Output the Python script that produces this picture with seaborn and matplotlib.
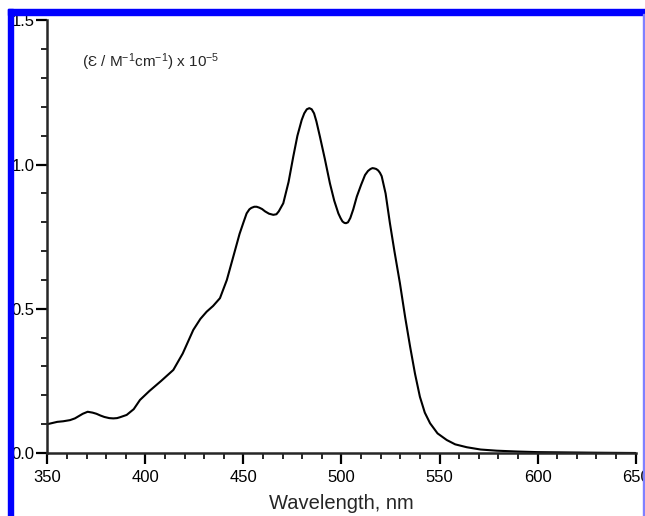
import numpy as np
import pandas as pd
import matplotlib
matplotlib.use('Agg')
import matplotlib.pyplot as plt
from matplotlib.patches import Rectangle
from matplotlib.ticker import MultipleLocator, FormatStrFormatter
import seaborn as sns

# ── Data ─────────────────────────────────────────────────────────────────────

wavelength = [350, 355, 358, 361.5, 364, 366, 368, 370.5, 373, 375, 377,
              379, 381.5, 383.6, 385.5, 387, 390.4, 394, 397.2, 402, 408,
              414.2, 419, 424.4, 428, 431.2, 434.5, 438, 441.5, 444.8, 448,
              450, 451.6, 453, 454, 455.5, 456.7, 458, 459.5, 461, 463,
              465.2, 466.8, 468, 470.3, 473, 475.4, 477.5, 479.7, 481,
              482.3, 483.6, 484.8, 486, 487.2, 489, 491.5, 494.1, 496.3,
              498.4, 499.5, 500.5, 501.5, 502.3, 503.3, 504.5, 506,
              507.8, 510, 512, 513.5, 514.8, 515.8, 516.7, 517.7, 518.7,
              519.6, 520.5, 522.5, 524.7, 527, 529.8, 532.5, 535, 537.5,
              540, 542.5, 545.2, 549, 553.7, 558, 563.9, 571, 579.2, 590,
              600, 615, 630, 650]
epsilon = [0.100, 0.108, 0.110, 0.114, 0.120, 0.128, 0.136, 0.143, 0.140,
           0.136, 0.130, 0.125, 0.121, 0.120, 0.121, 0.124, 0.132, 0.152,
           0.184, 0.215, 0.250, 0.288, 0.345, 0.427, 0.465, 0.490, 0.510,
           0.537, 0.600, 0.681, 0.760, 0.800, 0.831, 0.845, 0.850, 0.854,
           0.854, 0.851, 0.846, 0.838, 0.830, 0.826, 0.828, 0.838, 0.866,
           0.940, 1.028, 1.100, 1.155, 1.178, 1.192, 1.196, 1.192, 1.178,
           1.150, 1.097, 1.020, 0.935, 0.875, 0.831, 0.815, 0.803, 0.798,
           0.797, 0.800, 0.815, 0.845, 0.889, 0.930, 0.964, 0.978, 0.985,
           0.988, 0.987, 0.985, 0.980, 0.972, 0.960, 0.900, 0.797, 0.700,
           0.589, 0.470, 0.369, 0.275, 0.195, 0.140, 0.103, 0.068, 0.045,
           0.030, 0.020, 0.012, 0.008, 0.005, 0.003, 0.002, 0.001, 0.000]

df = pd.DataFrame({'Wavelength': wavelength, 'Epsilon': epsilon})

# ── Plot ─────────────────────────────────────────────────────────────────────

sns.set_style('ticks')
plt.rcParams['font.family'] = ['Liberation Sans', 'DejaVu Sans']
plt.rcParams['mathtext.default'] = 'regular'

fig = plt.figure(figsize=(6.45, 5.16), dpi=100)
ax = fig.add_axes([0.0736, 0.1221, 0.9117, 0.8382])

sns.lineplot(data=df, x='Wavelength', y='Epsilon', ax=ax,
             color='black', linewidth=1.5)

ax.set_xlim(350, 650)
ax.set_ylim(0, 1.5)
ax.xaxis.set_major_locator(MultipleLocator(50))
ax.xaxis.set_minor_locator(MultipleLocator(10))
ax.yaxis.set_major_locator(MultipleLocator(0.5))
ax.yaxis.set_minor_locator(MultipleLocator(0.1))
ax.yaxis.set_major_formatter(FormatStrFormatter('%.1f'))

for side in ['top', 'right']:
    ax.spines[side].set_visible(False)
for side in ['left', 'bottom']:
    ax.spines[side].set_linewidth(1.8)

ax.tick_params(which='major', direction='out', length=8, width=1.6,
               labelsize=12, pad=1.5, colors='black')
ax.tick_params(which='minor', direction='out', length=4.5, width=1.4)
ax.tick_params(axis='x', which='major', pad=4)

ax.set_xlabel('Wavelength, nm', fontsize=14.5, labelpad=7)
ax.set_ylabel('')
ax.text(367.5, 1.357, '(Ɛ / M$^{-1}$cm$^{-1}$) x 10$^{-5}$',
        fontsize=11, va='center', ha='left')

# blue frame of the cropped page
fig.patches.append(Rectangle((0.0124, 0.971), 0.99, 0.0116,
                             transform=fig.transFigure, color='#0000ff',
                             zorder=10))
fig.patches.append(Rectangle((0.0124, 0.0), 0.0073, 0.9826,
                             transform=fig.transFigure, color='#0000ff',
                             zorder=10))
fig.patches.append(Rectangle((0.9975, 0.0), 0.0025, 0.972,
                             transform=fig.transFigure, color='#8080ff',
                             zorder=10))

fig.savefig('out.png', dpi=100)
